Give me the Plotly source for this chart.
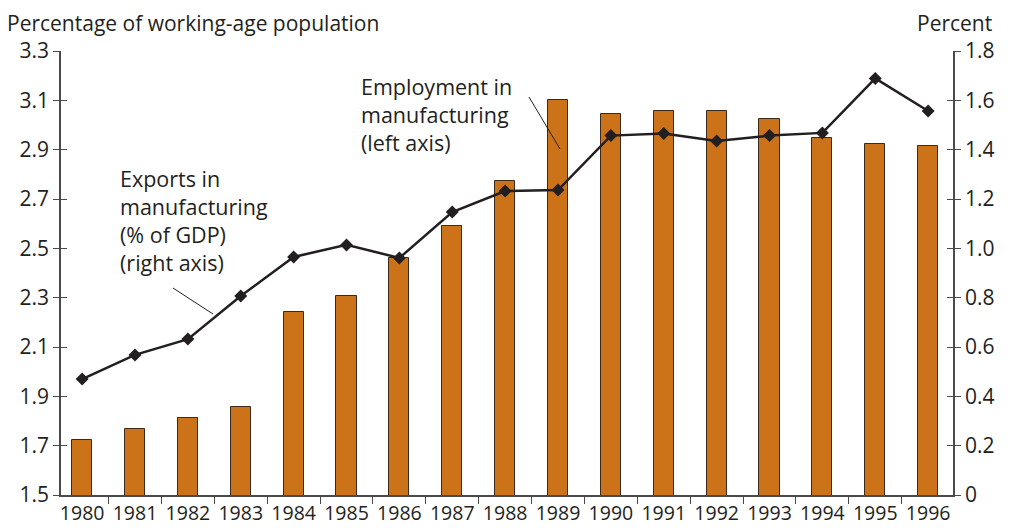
import plotly.graph_objects as go

years = [str(y) for y in range(1980, 1997)]
employment = [1.723, 1.768, 1.811, 1.857, 2.241, 2.307, 2.46, 2.59, 2.773, 3.10,
              3.045, 3.058, 3.058, 3.024, 2.946, 2.923, 2.914]
exports = [0.47, 0.568, 0.632, 0.807, 0.965, 1.014, 0.961, 1.147, 1.232, 1.236,
           1.457, 1.466, 1.435, 1.457, 1.468, 1.689, 1.557]
left_ticks = [1.5, 1.7, 1.9, 2.1, 2.3, 2.5, 2.7, 2.9, 3.1, 3.3]
right_ticks = [0, 0.2, 0.4, 0.6, 0.8, 1.0, 1.2, 1.4, 1.6, 1.8]

FONT = "Open Sans"
INK = "#231f20"
BAR = "#cc7219"
AXIS = "#4a4a4a"

# the page body adds an 8px margin, so the figure is drawn 8px smaller
PAD = 8
# plot area in reference pixels
L, R, T, B = 61, 953, 51, 495
W, H = 1010 - PAD, 530 - PAD


def px(x):
    return (x - L) / (R - L)


def py(y):
    return (B - y) / (B - T)


fig = go.Figure()
fig.add_trace(go.Bar(
    x=years, y=employment, width=0.38,
    marker=dict(color=BAR, line=dict(color="#3b2a1c", width=1)),
    name="Employment", yaxis="y",
))
fig.add_trace(go.Scatter(
    x=years, y=exports, mode="lines+markers", yaxis="y2",
    line=dict(color=INK, width=2.5),
    marker=dict(symbol="diamond", size=10, color=INK),
    name="Exports",
))
# empty traces so the tick-overlay axes get drawn
fig.add_trace(go.Scatter(x=[], y=[], yaxis="y3", showlegend=False))
fig.add_trace(go.Scatter(x=[], y=[], yaxis="y4", showlegend=False))

axis_font = dict(family=FONT, size=21, color=INK)
fig.update_layout(
    width=W, height=H,
    margin=dict(l=L - PAD, r=1010 - R, t=T - PAD, b=530 - B),
    paper_bgcolor="white", plot_bgcolor="white",
    showlegend=False,
    font=dict(family=FONT, color=INK),
    xaxis=dict(
        type="category", range=[-0.4, 16.47], tickangle=0, automargin=False,
        showline=True, linecolor=AXIS, linewidth=1.5,
        ticks="outside", tickson="boundaries", ticklen=7, tickcolor=AXIS,
        showgrid=False, tickfont=dict(family=FONT, size=19.5, color=INK),
    ),
    yaxis=dict(
        range=[1.5, 3.3], tickvals=left_ticks, ticktext=[f"{v:.1f}" for v in left_ticks],
        showline=True, linecolor=AXIS, linewidth=1.5, automargin=False,
        ticks="outside", ticklen=6, tickcolor=AXIS,
        showgrid=False, zeroline=False, tickfont=axis_font,
    ),
    yaxis2=dict(
        range=[0, 1.8], tickvals=right_ticks,
        ticktext=["0"] + [f"{v:.1f}" for v in right_ticks[1:]],
        overlaying="y", side="right", automargin=False,
        showline=True, linecolor=AXIS, linewidth=1.5,
        ticks="outside", ticklen=6, tickcolor=AXIS,
        showgrid=False, zeroline=False, tickfont=axis_font,
    ),
    yaxis3=dict(
        range=[1.5, 3.3], tickvals=left_ticks, overlaying="y", side="left",
        ticks="inside", ticklen=6, tickcolor=AXIS, showticklabels=False,
        showline=False, showgrid=False, zeroline=False,
    ),
    yaxis4=dict(
        range=[1.5, 3.3], tickvals=left_ticks, overlaying="y", side="right",
        ticks="inside", ticklen=6, tickcolor=AXIS, showticklabels=False,
        showline=False, showgrid=False, zeroline=False,
    ),
    bargap=0,
)

ann_font = dict(family=FONT, size=21.5, color=INK)
title_font = dict(family=FONT, size=21, color=INK)
fig.add_annotation(
    xref="paper", yref="paper", x=px(6), y=py(23), xanchor="left", yanchor="middle",
    text="Percentage of working-age population", showarrow=False, font=title_font,
    borderpad=0,
)
fig.add_annotation(
    xref="paper", yref="paper", x=px(993), y=py(23), xanchor="right", yanchor="middle",
    text="Percent", showarrow=False, font=title_font, borderpad=0,
)
fig.add_annotation(
    xref="paper", yref="paper", x=px(359), y=py(70), xanchor="left", yanchor="top",
    text="Employment in<br>manufacturing<br>(left axis)", align="left",
    showarrow=False, font=ann_font,
)
fig.add_annotation(
    xref="paper", yref="paper", x=px(118), y=py(162), xanchor="left", yanchor="top",
    text="Exports in<br>manufacturing<br>(% of GDP)<br>(right axis)", align="left",
    showarrow=False, font=ann_font,
)
fig.add_shape(type="line", xref="paper", yref="paper",
              x0=px(529), y0=py(97), x1=px(560), y1=py(149),
              line=dict(color=INK, width=1))
fig.add_shape(type="line", xref="paper", yref="paper",
              x0=px(173), y0=py(288), x1=px(213), y1=py(314),
              line=dict(color=INK, width=1))

fig.write_html("out.html")
